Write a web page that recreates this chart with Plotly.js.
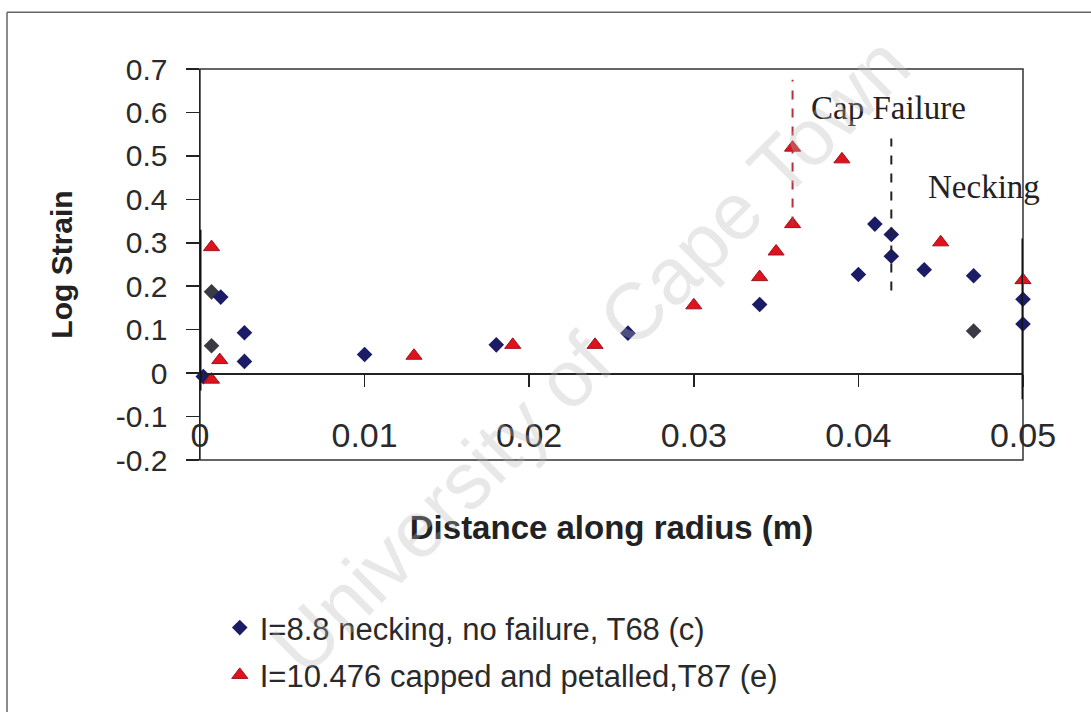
<!DOCTYPE html>
<html>
<head>
<meta charset="utf-8">
<script src="https://cdn.plot.ly/plotly-3.0.1.min.js"></script>
<style>html,body{margin:0;padding:0;background:#fff;width:1091px;height:712px;overflow:hidden;}#chart{width:1091px;height:712px;overflow:hidden;}</style>
</head>
<body>
<div id="chart"></div>
<script>
// ---- data ----
const neckingName = 'I=8.8 necking, no failure, T68 (c)';
const neckingX = [0.0002, 0.0007, 0.0007, 0.00126, 0.0027, 0.0027, 0.010, 0.018, 0.026, 0.034, 0.040, 0.041, 0.042, 0.042, 0.044, 0.047, 0.047, 0.050, 0.050];
const neckingY = [-0.008, 0.187, 0.063, 0.175, 0.093, 0.027, 0.043, 0.065, 0.092, 0.158, 0.227, 0.343, 0.319, 0.269, 0.238, 0.224, 0.097, 0.170, 0.113];

const cappedName = 'I=10.476 capped and petalled,T87 (e)';
const cappedX = [0.0007, 0.0012, 0.0007, 0.013, 0.019, 0.024, 0.030, 0.034, 0.035, 0.036, 0.036, 0.039, 0.045, 0.050];
const cappedY = [0.290, 0.030, -0.015, 0.040, 0.065, 0.065, 0.156, 0.221, 0.280, 0.343, 0.519, 0.492, 0.301, 0.214];

const xTickVals = [0, 0.01, 0.02, 0.03, 0.04, 0.05];
const xTickText = ['0', '0.01', '0.02', '0.03', '0.04', '0.05'];
const yTickVals = [-0.2, -0.1, 0, 0.1, 0.2, 0.3, 0.4, 0.5, 0.6, 0.7];
const yTickText = ['-0.2', '-0.1', '0', '0.1', '0.2', '0.3', '0.4', '0.5', '0.6', '0.7'];

// marker lines (reference annotations)
const capFailureLine = {x: 0.036, y0: 0.34, y1: 0.675};
const neckingLine = {x: 0.042, y0: 0.19, y1: 0.54};
const edgeBars = [{x: 0, y0: -0.04, y1: 0.33}, {x: 0.05, y0: -0.06, y1: 0.31}];

// ---- styles ----
const sans = 'Liberation Sans, Arial, sans-serif';
const serif = 'Liberation Serif, Times New Roman, serif';
const neckingColors = ['#1c1c66', '#3a3a44', '#3a3a44', '#1c1c66', '#1c1c66', '#1c1c66', '#1c1c66', '#1c1c66', '#1c1c66', '#1c1c66', '#1c1c66', '#1c1c66', '#1c1c66', '#1c1c66', '#1c1c66', '#1c1c66', '#3a3a44', '#1c1c66', '#1c1c66'];

const traces = [
  {
    type: 'scatter', mode: 'markers', name: neckingName, legendgroup: 'a',
    x: neckingX, y: neckingY, cliponaxis: false,
    marker: {symbol: 'diamond', size: 12, color: neckingColors, line: {width: 0}}
  },
  {
    type: 'scatter', mode: 'markers', name: cappedName, legendgroup: 'b',
    x: cappedX, y: cappedY, cliponaxis: false,
    marker: {symbol: 'triangle-up', size: 14, color: '#e0121c', line: {width: 1, color: '#a01020'}}
  }
];

const shapes = [
  // plot box
  {type: 'rect', xref: 'x domain', yref: 'y domain', x0: 0, x1: 1, y0: 0, y1: 1, line: {color: '#333', width: 1.5}, layer: 'below'},
  // outer chart frame (top and left)
  {type: 'line', xref: 'paper', yref: 'paper', x0: -0.2345, x1: 1.09, y0: 1.1454, y1: 1.1454, line: {color: '#666', width: 1.5}},
  {type: 'line', xref: 'paper', yref: 'paper', x0: -0.2345, x1: -0.2345, y0: 1.1454, y1: -0.65, line: {color: '#666', width: 1.5}},
  {type: 'line', xref: 'x', yref: 'y', x0: capFailureLine.x, x1: capFailureLine.x, y0: capFailureLine.y0, y1: capFailureLine.y1, line: {color: '#b8303c', width: 2, dash: 'dash'}},
  {type: 'line', xref: 'x', yref: 'y', x0: neckingLine.x, x1: neckingLine.x, y0: neckingLine.y0, y1: neckingLine.y1, line: {color: '#222', width: 2, dash: 'dash'}}
];
edgeBars.forEach(b => shapes.push({type: 'line', xref: 'x', yref: 'y', x0: b.x, x1: b.x, y0: b.y0, y1: b.y1, line: {color: '#111', width: 3}}));

const layout = {
  width: 1091, height: 712,
  margin: {l: 200, r: 68, t: 69, b: 251},
  paper_bgcolor: '#ffffff', plot_bgcolor: '#ffffff',
  font: {family: sans, color: '#222'},
  showlegend: true,
  xaxis: {
    range: [0, 0.05], anchor: 'free', position: 0.2222,
    tickmode: 'array', tickvals: xTickVals, ticktext: xTickText,
    ticks: 'outside', ticklen: 12, tickwidth: 1.5, tickcolor: '#222',
    showline: true, linecolor: '#222', linewidth: 1.5,
    showgrid: false, zeroline: false,
    tickfont: {family: sans, size: 34, color: '#2a2a2a'},
    ticklabelstandoff: 20,
    title: {text: 'Distance along radius (m)', font: {family: sans, size: 33, weight: 700, color: '#222'}, standoff: 62}
  },
  yaxis: {
    range: [-0.2, 0.7],
    tickmode: 'array', tickvals: yTickVals, ticktext: yTickText,
    ticks: 'outside', ticklen: 13, tickwidth: 1.5, tickcolor: '#222',
    showline: true, linecolor: '#222', linewidth: 1.5,
    showgrid: false, zeroline: false,
    tickfont: {family: sans, size: 30, color: '#2a2a2a'},
    ticklabelstandoff: 12,
    title: {text: 'Log Strain', font: {family: sans, size: 30, weight: 700, color: '#222'}, standoff: 34}
  },
  legend: {
    x: 0.024, y: -0.357, xanchor: 'left', yanchor: 'top',
    font: {family: sans, size: 31, color: '#2a2a2a'},
    bgcolor: 'rgba(0,0,0,0)', traceorder: 'grouped', tracegroupgap: 4,
    itemwidth: 30
  },
  annotations: [
    {xref: 'x', yref: 'y', x: 0.0418, y: 0.611, text: 'Cap Failure', showarrow: false, font: {family: serif, size: 33, color: '#222'}},
    {xref: 'x', yref: 'y', x: 0.0476, y: 0.428, text: 'Necking', showarrow: false, font: {family: serif, size: 33, color: '#222'}},
    {xref: 'paper', yref: 'paper', x: 0.474, y: 0.268, xanchor: 'center', yanchor: 'middle', text: 'University of Cape Town', showarrow: false, textangle: -45, font: {family: sans, size: 80, color: 'rgba(185,185,185,0.32)'}}
  ],
  shapes: shapes
};

Plotly.newPlot('chart', traces, layout, {displayModeBar: false, staticPlot: true});
</script>
</body>
</html>
